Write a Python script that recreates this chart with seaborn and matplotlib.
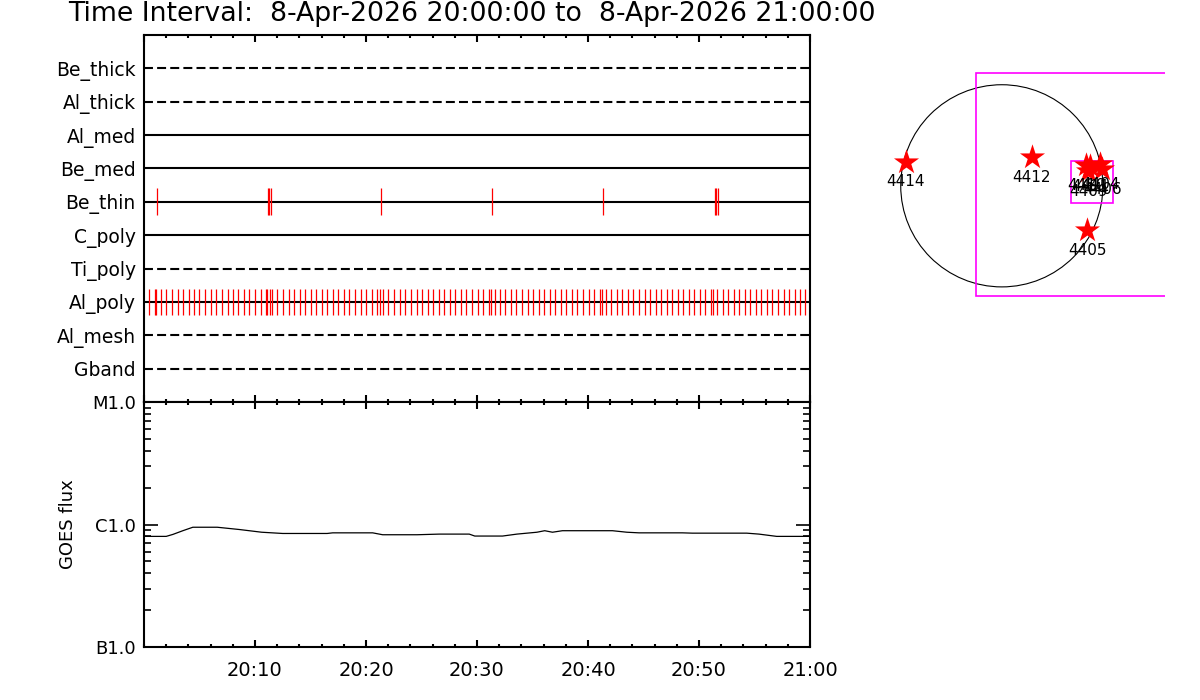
import numpy as np
import pandas as pd
import seaborn as sns
import matplotlib.pyplot as plt
from matplotlib.patches import Circle, Rectangle
from matplotlib.ticker import FixedLocator, MultipleLocator, NullFormatter

TITLE = "Time Interval:  8-Apr-2026 20:00:00 to  8-Apr-2026 21:00:00"

# XRT filters, top to bottom, and the filter wheel each one sits on
filters = ['Be_thick', 'Al_thick', 'Al_med', 'Be_med', 'Be_thin',
           'C_poly', 'Ti_poly', 'Al_poly', 'Al_mesh', 'Gband']
wheel = [2, 2, 1, 1, 1, 1, 2, 1, 2, 2]

# exposure times, minutes after 20:00
be_thin_t = [1.2, 11.19, 11.28, 11.46, 21.36, 31.35, 41.34, 51.45, 51.54, 51.69]
al_poly_t = [0.48, 1.02, 1.08, 1.56, 2.01, 2.55, 3.09, 3.54, 4.02, 4.53, 4.98,
             5.52, 6.06, 6.51, 7.05, 7.53, 8.04, 8.49, 9.03, 9.48, 10.02,
             10.56, 11.01, 11.10, 11.37, 11.55, 12.00, 12.54, 13.08, 13.53,
             14.07, 14.52, 15.06, 15.51, 16.05, 16.50, 17.04, 17.49, 18.03,
             18.48, 19.02, 19.56, 20.01, 20.55, 21.00, 21.27, 21.54, 21.99,
             22.53, 23.07, 23.52, 24.06, 24.60, 25.05, 25.59, 26.04, 26.58,
             27.03, 27.57, 28.02, 28.56, 29.01, 29.55, 30.09, 30.54, 31.08,
             31.26, 31.62, 32.07, 32.52, 33.06, 33.51, 34.05, 34.59, 35.04,
             35.58, 36.03, 36.57, 37.02, 37.56, 38.01, 38.55, 39.00, 39.54,
             40.08, 40.53, 41.07, 41.25, 41.61, 42.06, 42.60, 43.05, 43.59,
             44.04, 44.58, 45.12, 45.57, 46.11, 46.56, 47.10, 47.55, 48.09,
             48.54, 49.08, 49.53, 50.07, 50.52, 51.06, 51.24, 51.60, 52.14,
             52.59, 53.13, 53.58, 54.12, 54.57, 55.11, 55.56, 56.10, 56.55,
             57.09, 57.63, 58.08, 58.62, 59.07, 59.52]

# GOES 1-8 A flux
goes_t = [0, 2.0, 2.6, 3.5, 4.4, 6.6, 8.6, 10.6, 12.5, 16.5, 17.0, 20.6, 21.5,
          24.6, 26.6, 29.3, 29.8, 32.3, 33.6, 35.4, 36.1, 36.8, 37.7, 42.2,
          43.5, 44.6, 48.5, 49.4, 54.3, 55.4, 57.0, 60]
goes_flux = [8.0e-7, 8.0e-7, 8.3e-7, 8.9e-7, 9.5e-7, 9.5e-7, 9.1e-7, 8.65e-7,
             8.45e-7, 8.45e-7, 8.55e-7, 8.55e-7, 8.25e-7, 8.25e-7, 8.35e-7,
             8.35e-7, 8.05e-7, 8.05e-7, 8.35e-7, 8.65e-7, 8.9e-7, 8.65e-7,
             8.9e-7, 8.9e-7, 8.65e-7, 8.55e-7, 8.55e-7, 8.5e-7, 8.5e-7,
             8.35e-7, 8.0e-7, 8.0e-7]
goes_ticks = [1e-7, 1e-6, 1e-5]
goes_labels = ['B1.0', 'C1.0', 'M1.0']

time_ticks = [10, 20, 30, 40, 50, 60]
time_labels = ['20:10', '20:20', '20:30', '20:40', '20:50', '21:00']

# active regions on the disk (arcsec)
ar_num = ['4414', '4412', '4405', '4410', '4411', '4404', '4406', '4409']
ar_x = [-912, 285, 810, 801, 839, 934, 953, 820]
ar_y = [229, 271, -420, 198, 188, 207, 160, 140]
r_sun = 960
fov_big = [-241, -1047, 2116, 2116]     # x0, y0, width, height
fov_small = [655, -163, 400, 399]

sns.set_theme(style="ticks")
plt.rcParams['font.family'] = ['DejaVu Sans']
plt.rcParams['axes.linewidth'] = 1.5
plt.rcParams['axes.edgecolor'] = 'black'
plt.rcParams['text.color'] = 'black'
plt.rcParams['axes.labelcolor'] = 'black'
plt.rcParams['xtick.color'] = 'black'
plt.rcParams['ytick.color'] = 'black'
plt.rcParams['xtick.labelcolor'] = 'black'
plt.rcParams['ytick.labelcolor'] = 'black'

fig = plt.figure(figsize=(12, 7), dpi=100)
ax1 = fig.add_axes([0.12, 0.4257, 0.555, 0.5243])
ax2 = fig.add_axes([0.12, 0.0757, 0.555, 0.35])
ax3 = fig.add_axes([0.699, 0.5017, 0.2717, 0.4657])

# ---- filter timeline
rows = np.arange(len(filters), 0, -1)
for name, y, w in zip(filters, rows, wheel):
    ls = '-' if w == 1 else (0, (4.3, 2.0))
    ax1.hlines(y, 0, 60, colors='black', lw=1.5, linestyles=ls, zorder=2)
for name, times in [('Be_thin', be_thin_t), ('Al_poly', al_poly_t)]:
    y = rows[filters.index(name)]
    ax1.vlines(times, y - 0.4, y + 0.4, colors='#ff0000', lw=0.9, zorder=3)

ax1.set_xlim(0, 60)
ax1.set_ylim(0, 11)
ax1.set_yticks(rows)
ax1.set_yticklabels(filters, fontsize=13.5)
ax1.tick_params(axis='y', length=0, pad=6)
ax1.xaxis.set_major_locator(MultipleLocator(10))
ax1.xaxis.set_minor_locator(MultipleLocator(2))
ax1.xaxis.set_major_formatter(NullFormatter())
ax1.tick_params(axis='x', which='both', direction='in', top=True, bottom=True,
                width=1.5, color='black')
ax1.tick_params(axis='x', which='major', length=5)
ax1.tick_params(axis='x', which='minor', length=2.5)

# ---- GOES panel
goes = pd.DataFrame({'t': goes_t, 'flux': goes_flux})
sns.lineplot(data=goes, x='t', y='flux', ax=ax2, color='black', lw=0.9)
ax2.set_yscale('log')
ax2.set_ylim(1e-7, 1e-5)
ax2.set_xlim(0, 60)
ax2.yaxis.set_major_locator(FixedLocator(goes_ticks))
ax2.set_yticklabels(goes_labels, fontsize=13)
ax2.yaxis.set_minor_locator(FixedLocator(
    [m * d for d in (1e-7, 1e-6) for m in range(2, 10)]))
ax2.yaxis.set_minor_formatter(NullFormatter())
ax2.tick_params(axis='y', which='both', direction='in', left=True, right=True,
                width=1.2, color='black', pad=6)
ax2.tick_params(axis='y', which='major', length=10)
ax2.tick_params(axis='y', which='minor', length=5)
ax2.set_xticks(time_ticks)
ax2.set_xticklabels(time_labels, fontsize=14)
ax2.xaxis.set_minor_locator(MultipleLocator(2))
ax2.tick_params(axis='x', which='both', direction='in', top=True, bottom=True,
                width=1.5, color='black', pad=10)
ax2.tick_params(axis='x', which='major', length=5)
ax2.tick_params(axis='x', which='minor', length=2.5)
ax2.set_xlabel('')
ax2.set_ylabel('GOES flux', fontsize=13)
ax2.yaxis.set_label_coords(-0.1, 0.5)

# ---- solar disk with active regions and XRT field of view
ax3.add_patch(Circle((0, 0), r_sun, fill=False, ec='black', lw=0.8))
ax3.add_patch(Rectangle(fov_big[:2], fov_big[2], fov_big[3], fill=False,
                        ec='#ff00ff', lw=1.2))
ax3.add_patch(Rectangle(fov_small[:2], fov_small[2], fov_small[3], fill=False,
                        ec='#ff00ff', lw=1.2))
ars = pd.DataFrame({'x': ar_x, 'y': ar_y, 'num': ar_num})
sns.scatterplot(data=ars, x='x', y='y', ax=ax3, marker='*', s=360,
                color='#ff0000', edgecolor='#ff0000', linewidth=0, zorder=3)
for _, r in ars.iterrows():
    ax3.annotate(r['num'], (r['x'], r['y']), xytext=(0, -14.5),
                 textcoords='offset points', ha='center', va='center',
                 fontsize=11, color='black', zorder=4)
ax3.set_xlim(-1548, 1548)
ax3.set_ylim(-1548, 1548)
ax3.set_aspect('equal')
ax3.axis('off')

fig.text(68 / 1200, 1 - 21 / 700, TITLE, fontsize=19.3, va='baseline',
         ha='left', color='black')

fig.savefig('out.png', dpi=100, facecolor='white')
